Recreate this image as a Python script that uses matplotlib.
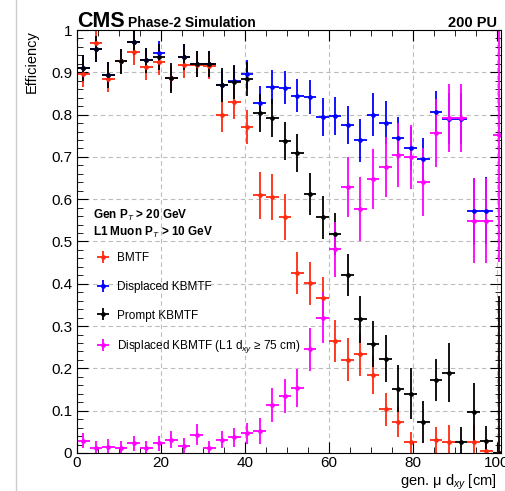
import numpy as np
import matplotlib
matplotlib.use('Agg')
import matplotlib.pyplot as plt
from matplotlib.lines import Line2D
from matplotlib.ticker import MultipleLocator, FuncFormatter

plt.rcParams['font.family'] = ['Liberation Sans', 'DejaVu Sans']
plt.rcParams['mathtext.fontset'] = 'custom'
plt.rcParams['mathtext.rm'] = 'Liberation Sans'
plt.rcParams['mathtext.it'] = 'Liberation Sans:italic'

#bins of 3 cm in gen. muon d_xy
bin_edges = np.arange(0, 103, 3)
x = (bin_edges[:-1] + bin_edges[1:]) / 2

#BMTF
eff_bmtf = [0.895, 0.970, 0.884, 0.926, 0.947, 0.912, 0.924, 0.886, 0.917, 0.918, 0.914,
            0.799, 0.829, 0.771, 0.609, 0.605, 0.558, 0.425, 0.401, 0.366, 0.264, 0.221,
            0.233, 0.185, 0.103, 0.074, 0.025, np.nan, 0.031, 0.027, np.nan, 0.027, 0.005, 0.0]
err_bmtf = [0.03, 0.03, 0.03, 0.03, 0.03, 0.03, 0.03, 0.03, 0.03, 0.03, 0.03,
            0.04, 0.04, 0.04, 0.055, 0.055, 0.055, 0.05, 0.05, 0.05, 0.05, 0.05,
            0.05, 0.045, 0.04, 0.035, 0.025, 0.0, 0.03, 0.04, 0.0, 0.04, 0.02, 0.0]

#Displaced KBMTF
eff_disp = [0.910, 0.955, 0.894, 0.926, 0.971, 0.928, 0.945, 0.886, 0.936, 0.920, 0.920,
            0.870, 0.880, 0.895, 0.828, 0.866, 0.864, 0.845, 0.842, 0.795, 0.797, 0.775,
            0.739, 0.800, 0.781, 0.745, 0.720, 0.694, 0.806, 0.790, 0.790, 0.571, 0.573, np.nan]
err_disp = [0.03, 0.03, 0.03, 0.03, 0.03, 0.03, 0.03, 0.03, 0.03, 0.03, 0.03,
            0.035, 0.035, 0.035, 0.04, 0.04, 0.04, 0.04, 0.04, 0.045, 0.045, 0.045,
            0.05, 0.05, 0.05, 0.05, 0.05, 0.05, 0.05, 0.06, 0.06, 0.08, 0.08, 0.0]

#Prompt KBMTF
eff_prompt = [0.910, 0.955, 0.894, 0.926, 0.971, 0.928, 0.936, 0.886, 0.936, 0.920, 0.920,
              0.869, 0.878, 0.884, 0.803, 0.791, 0.737, 0.710, 0.613, 0.557, 0.518, 0.420,
              0.316, 0.258, 0.223, 0.152, 0.140, 0.073, 0.173, 0.190, 0.027, 0.096, 0.029, 0.0]
err_prompt = [0.03, 0.03, 0.03, 0.03, 0.03, 0.03, 0.03, 0.035, 0.03, 0.03, 0.03,
              0.04, 0.04, 0.04, 0.045, 0.045, 0.045, 0.045, 0.05, 0.05, 0.05, 0.05,
              0.055, 0.055, 0.055, 0.055, 0.06, 0.05, 0.05, 0.07, 0.035, 0.07, 0.035, 0.37]

#Displaced KBMTF, L1 d_xy >= 75 cm
eff_disp75 = [0.029, 0.011, 0.015, 0.011, 0.023, 0.011, 0.023, 0.031, 0.017, 0.043, 0.011,
              0.031, 0.037, 0.047, 0.052, 0.113, 0.134, 0.154, 0.245, 0.320, 0.482, 0.629,
              0.577, 0.648, 0.676, 0.705, 0.700, 0.640, 0.757, 0.792, 0.792, 0.549, 0.549, 0.751]
err_disp75 = [0.018, 0.018, 0.018, 0.018, 0.018, 0.018, 0.018, 0.02, 0.018, 0.025, 0.018,
              0.02, 0.022, 0.025, 0.03, 0.04, 0.04, 0.045, 0.05, 0.06, 0.065, 0.07,
              0.075, 0.07, 0.07, 0.075, 0.075, 0.08, 0.08, 0.08, 0.08, 0.1, 0.1, 0.3]

fig = plt.figure(figsize=(5.06, 4.91), dpi=100)
ax = fig.add_axes([77/506, 38/491, 424/506, 423/491])

kw = dict(xerr=1.5, fmt='o', ms=3.4, elinewidth=1.3, capsize=0, mew=0)
h_disp = ax.errorbar(x, eff_disp, yerr=err_disp, color='#0000ff', label='Displaced KBMTF', **kw)
h_bmtf = ax.errorbar(x, eff_bmtf, yerr=err_bmtf, color='#ff2a10', label='BMTF', **kw)
h_prompt = ax.errorbar(x, eff_prompt, yerr=err_prompt, color='black', label='Prompt KBMTF', **kw)
h_disp75 = ax.errorbar(x, eff_disp75, yerr=err_disp75, color='#ff00ff',
                       label='Displaced KBMTF (L1 d$_{xy}$ ≥ 75 cm)', **kw)

ax.set_xlim(0, 101)
ax.set_ylim(0, 1)
ax.xaxis.set_major_locator(MultipleLocator(20))
ax.xaxis.set_minor_locator(MultipleLocator(5))
ax.yaxis.set_major_locator(MultipleLocator(0.1))
ax.yaxis.set_minor_locator(MultipleLocator(0.02))
ax.yaxis.set_major_formatter(FuncFormatter(lambda v, p: '%g' % round(v, 2)))
ax.tick_params(which='both', direction='in', top=True, right=True, labelsize=11)
ax.tick_params(which='major', length=8)
ax.tick_params(which='minor', length=4)
ax.tick_params(axis='x', which='major', pad=2)
ax.grid(True, which='major', color='#bcbcbc', linestyle=(0, (4, 3)), linewidth=0.8)
ax.set_axisbelow(True)

ax.set_ylabel('Efficiency', fontsize=10.5, ha='right')
ax.yaxis.set_label_coords(-0.09, 1.0)
ax.set_xlabel('gen. μ d$_{xy}$ [cm]', fontsize=10.5, ha='right')
ax.xaxis.set_label_coords(0.99, -0.046)

#header
fig.text(77/506, 1 - 27/491, 'CMS', fontsize=15.5, weight='bold', va='baseline')
fig.text(128/506, 1 - 27/491, 'Phase-2 Simulation', fontsize=10, weight='bold', va='baseline')
fig.text(497/506, 1 - 27/491, '200 PU', fontsize=10.5, weight='bold', va='baseline', ha='right')

#selection text
ax.text(0.038, (453 - 215)/423, 'Gen P$_{T}$ > 20 GeV', transform=ax.transAxes,
        fontsize=8.5, weight='bold', va='center')
ax.text(0.038, (453 - 232)/423, 'L1 Muon P$_{T}$ > 10 GeV', transform=ax.transAxes,
        fontsize=8.5, weight='bold', va='center')

ax.legend(handles=[h_bmtf, h_disp, h_prompt, h_disp75], loc='upper left',
          bbox_to_anchor=(0.038, (453 - 252)/423), frameon=False, fontsize=8.5,
          borderpad=0, borderaxespad=0, handlelength=1.7, handletextpad=0.3,
          labelspacing=1.42)

fig.add_artist(Line2D([16/506, 16/506], [0, 1], color='#cccccc', lw=1, transform=fig.transFigure))

plt.savefig('out.png', dpi=100)
